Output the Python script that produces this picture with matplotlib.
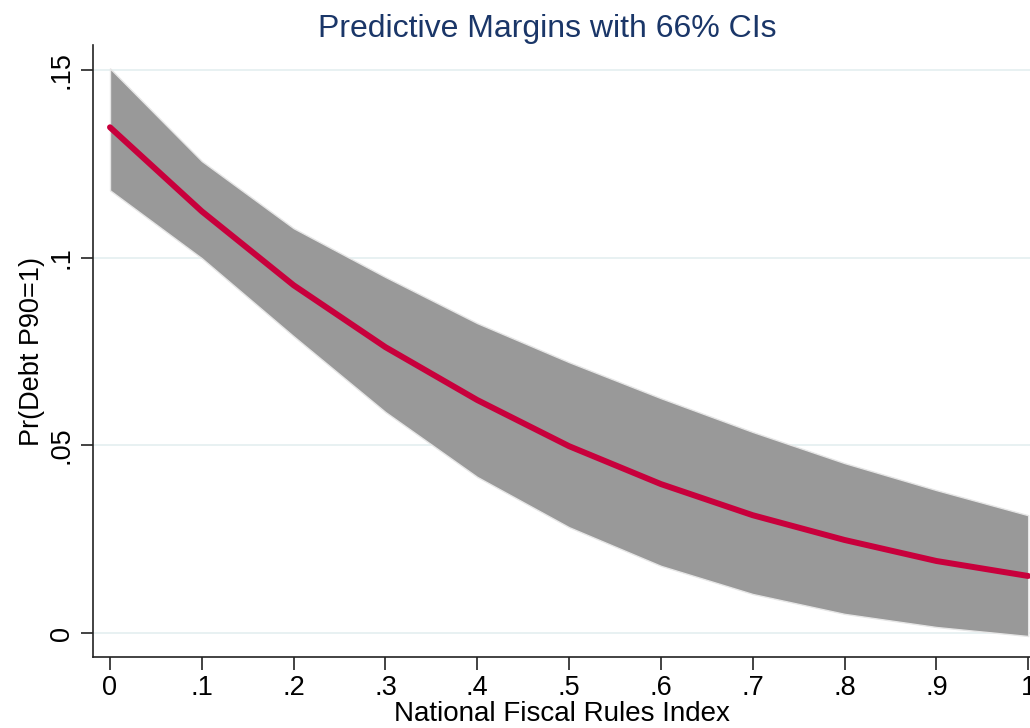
import matplotlib
matplotlib.use("Agg")
import matplotlib.pyplot as plt

# values
fiscal_index = [0.0, 0.1, 0.2, 0.3, 0.4, 0.5, 0.6, 0.7, 0.8, 0.9, 1.0]
margin = [0.1348, 0.1124, 0.0927, 0.0762, 0.0621, 0.0498, 0.0397, 0.0314, 0.0248, 0.0192, 0.0152]
ci_upper = [0.1505, 0.1258, 0.1079, 0.0949, 0.0826, 0.0722, 0.0626, 0.0536, 0.0453, 0.0381, 0.0314]
ci_lower = [0.1180, 0.0999, 0.0791, 0.0589, 0.0416, 0.0282, 0.0179, 0.0104, 0.0051, 0.0016, -0.0008]
x_ticks = [0.0, 0.1, 0.2, 0.3, 0.4, 0.5, 0.6, 0.7, 0.8, 0.9, 1.0]
x_labels = ["0", ".1", ".2", ".3", ".4", ".5", ".6", ".7", ".8", ".9", "1"]
y_ticks = [0.0, 0.05, 0.10, 0.15]
y_labels = ["0", ".05", ".1", ".15"]

plt.rcParams["font.family"] = ["Liberation Sans", "DejaVu Sans"]

fig = plt.figure(figsize=(10.3, 7.28), dpi=100)
ax = fig.add_axes([0.0903, 0.0975, 0.9097, 0.8405])

for y in y_ticks:
    ax.axhline(y, color="#e8f1f2", lw=1.4, zorder=0)

ax.fill_between(fiscal_index, ci_lower, ci_upper, facecolor="#999999",
                edgecolor="#e6e6e6", lw=1.0, zorder=1)
ax.plot(fiscal_index, margin, color="#c8003c", lw=4.3,
        solid_capstyle="round", zorder=2)

ax.set_xlim(-0.0185, 1.002)
ax.set_ylim(-0.0064, 0.1567)
ax.set_xticks(x_ticks)
ax.set_xticklabels(x_labels)
ax.set_yticks(y_ticks)
ax.set_yticklabels(y_labels, rotation=90, va="center")

for side in ("top", "right"):
    ax.spines[side].set_visible(False)
for side in ("left", "bottom"):
    ax.spines[side].set_linewidth(1.2)
    ax.spines[side].set_color("#222222")

ax.tick_params(axis="both", length=9, width=1.2, color="#222222",
               labelsize=19.5, pad=4)

ax.set_xlabel("National Fiscal Rules Index", fontsize=20, labelpad=0)
ax.set_ylabel("Pr(Debt P90=1)", fontsize=19.5, labelpad=3)
ax.set_title("Predictive Margins with 66% CIs", fontsize=23,
             color="#1a3668", pad=6, x=0.485)

fig.savefig("out.png", dpi=100)
